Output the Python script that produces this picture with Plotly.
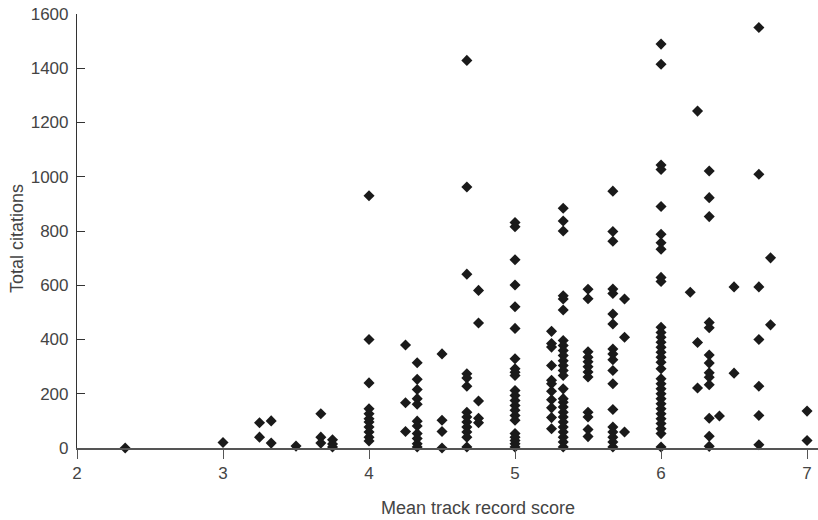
import plotly.graph_objects as go

# Data: mean track record score (x) and total citations (y), grouped by score column
col_scores = [2.33, 3.0, 3.25, 3.33, 3.5, 3.67, 3.75, 4.0, 4.25, 4.33, 4.5, 4.67, 4.75,
              5.0, 5.25, 5.33, 5.5, 5.67, 5.75, 6.0, 6.2, 6.25, 6.33, 6.4, 6.5, 6.67, 6.75, 7.0]
col_citations = [
    [0],
    [20],
    [93, 40],
    [100, 18],
    [7],
    [126, 40, 18],
    [30, 15, 4],
    [930, 400, 240, 145, 126, 108, 96, 77, 59, 40, 26],
    [380, 167, 61],
    [314, 253, 216, 182, 161, 99, 81, 53, 35, 16, 4],
    [347, 102, 61, 0],
    [1429, 962, 641, 274, 258, 228, 132, 114, 96, 77, 59, 40, 4],
    [581, 461, 173, 110, 93],
    [831, 816, 694, 601, 521, 441, 329, 292, 279, 267, 212, 194, 175, 157, 139, 120, 102, 53, 40, 28, 16, 4],
    [430, 385, 372, 304, 250, 237, 209, 178, 148, 112, 71],
    [884, 837, 800, 561, 549, 509, 396, 378, 359, 341, 322, 304, 286, 267, 218, 182, 169, 151, 132, 114, 96, 77, 59, 40, 22, 4],
    [585, 550, 355, 335, 318, 300, 280, 262, 132, 114, 68, 42],
    [947, 798, 762, 586, 570, 494, 457, 365, 347, 325, 286, 237, 142, 77, 59, 40, 22, 4],
    [549, 408, 59],
    [1489, 1415, 1043, 1027, 890, 788, 757, 733, 629, 614, 445, 426, 408, 390, 371, 353, 335, 316,
     292, 255, 237, 218, 200, 182, 163, 145, 126, 108, 90, 71, 53, 4],
    [574],
    [1242, 389, 221],
    [1021, 923, 853, 463, 443, 343, 313, 277, 261, 233, 110, 43, 6],
    [118],
    [594, 276],
    [1550, 1009, 594, 400, 228, 120, 12],
    [701, 454],
    [136, 28],
]

x_ticks = [2, 3, 4, 5, 6, 7]
y_ticks = [0, 200, 400, 600, 800, 1000, 1200, 1400, 1600]

xs, ys = [], []
for s, cits in zip(col_scores, col_citations):
    for c in cits:
        xs.append(s)
        ys.append(c)

FONT = "Liberation Sans, Arial, sans-serif"
TXT = "#444444"
AX = "#555555"

L, T, B = 77, 14, 72
W, H = 818, 520
PW, PH = W - L, H - T - B

fig = go.Figure()
fig.add_trace(go.Scatter(
    x=xs, y=ys, mode="markers",
    marker=dict(symbol="diamond", size=8.5, color="#1a1a1a", line=dict(width=0)),
    cliponaxis=False, showlegend=False, hoverinfo="skip",
))

fig.update_layout(
    width=W, height=H,
    margin=dict(l=L, r=0, t=T, b=B, autoexpand=False),
    paper_bgcolor="white", plot_bgcolor="white",
    font=dict(family=FONT, size=17, color=TXT),
    xaxis=dict(
        range=[2, 7.075], tickvals=x_ticks, ticktext=[str(v) for v in x_ticks],
        showgrid=False, zeroline=False, showline=True, linecolor=AX, linewidth=1.5,
        ticks="outside", ticklen=9, tickcolor=AX, tickwidth=1.2,
        tickfont=dict(family=FONT, size=17, color=TXT), automargin=False,
    ),
    yaxis=dict(
        range=[0, 1600], tickvals=y_ticks, ticktext=[str(v) for v in y_ticks],
        showgrid=False, zeroline=False, showline=True, linecolor="#333333", linewidth=1.2,
        ticks="inside", ticklen=8, tickcolor="#333333", tickwidth=1.2,
        tickfont=dict(family=FONT, size=17, color=TXT),
        ticklabelstandoff=4, automargin=False,
    ),
    annotations=[
        dict(text="Mean track record score", xref="paper", yref="paper",
             x=(478 - L) / PW, y=-(508 - 448) / PH, xanchor="center", yanchor="middle",
             showarrow=False, font=dict(family=FONT, size=18, color=TXT)),
        dict(text="Total citations", xref="paper", yref="paper",
             x=-(L - 17) / PW, y=(448 - 239) / PH, xanchor="center", yanchor="middle",
             textangle=-90, showarrow=False, font=dict(family=FONT, size=18, color=TXT)),
    ],
)

# remove the page's default body margin so the figure fills the window exactly
fig.write_html("out.html", config={"displayModeBar": False},
               post_script="document.body.style.margin='0';")
